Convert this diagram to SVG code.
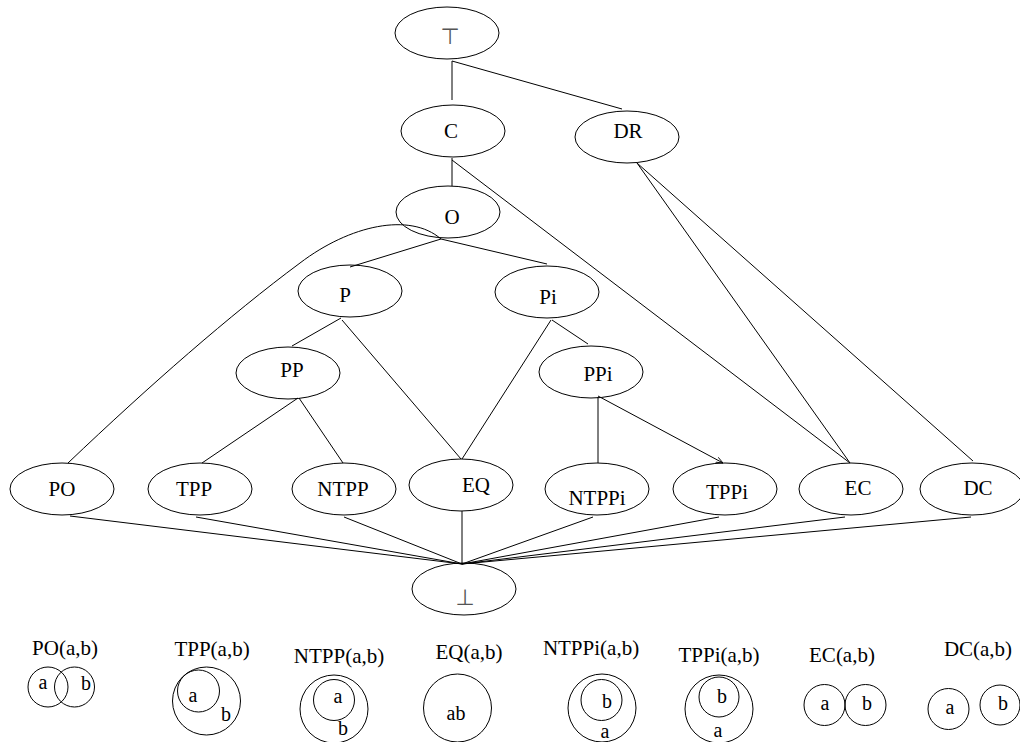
<svg xmlns="http://www.w3.org/2000/svg" width="1020" height="742" viewBox="0 0 1020 742">
<defs>
<style>
.n{fill:none;stroke:#000;stroke-width:1}
.t{font-family:"Liberation Serif","Times New Roman",serif;font-size:21px;fill:#000;text-anchor:middle}
.s{font-family:"Liberation Serif","Times New Roman",serif;font-size:20px;fill:#000;text-anchor:middle}
.sym{font-family:"DejaVu Sans",sans-serif;font-size:22px;fill:#555;text-anchor:middle}
.e{fill:none;stroke:#000;stroke-width:1}
</style>
<marker id="arr" viewBox="0 0 10 10" refX="10" refY="5" markerWidth="7" markerHeight="7" orient="auto" markerUnits="userSpaceOnUse">
<path d="M0,1 L10,5 L0,9" fill="none" stroke="#000" stroke-width="1.2"/>
</marker>
</defs>
<rect width="1020" height="742" fill="#fff"/>
<g id="connectors">
<line class="e" x1="452" y1="61" x2="452" y2="100"/>
<line class="e" x1="452" y1="61" x2="622" y2="109"/>
<line class="e" x1="452" y1="158" x2="452" y2="186"/>
<line class="e" x1="452" y1="160" x2="850" y2="463"/>
<line class="e" x1="637" y1="163" x2="850" y2="463"/>
<line class="e" x1="637" y1="163" x2="973" y2="461"/>
<line class="e" x1="441" y1="239" x2="350" y2="267"/>
<line class="e" x1="441" y1="239" x2="547" y2="264"/>
<path class="e" d="M441,239 C410,212 350,225 300,263 C230,315 150,385 68,463"/>
<line class="e" x1="341" y1="318" x2="292" y2="346"/>
<line class="e" x1="342" y1="320" x2="461" y2="459"/>
<line class="e" x1="551" y1="320" x2="462" y2="459"/>
<line class="e" x1="552" y1="320" x2="588" y2="344"/>
<line class="e" x1="298" y1="398" x2="202" y2="463"/>
<line class="e" x1="299" y1="398" x2="343" y2="463"/>
<line class="e" x1="598" y1="397" x2="598" y2="463"/>
<line class="e" x1="598" y1="396" x2="723" y2="463" marker-end="url(#arr)"/>
<line class="e" x1="70" y1="516" x2="462" y2="564"/>
<line class="e" x1="196" y1="517" x2="462" y2="564"/>
<line class="e" x1="344" y1="517" x2="462" y2="564"/>
<line class="e" x1="462" y1="511" x2="462" y2="564"/>
<line class="e" x1="593" y1="517" x2="462" y2="564"/>
<line class="e" x1="719" y1="517" x2="462" y2="564"/>
<line class="e" x1="845" y1="517" x2="462" y2="564"/>
<line class="e" x1="971" y1="517" x2="462" y2="564"/>
</g>
<g id="top"><ellipse class="n" cx="447" cy="33" rx="52" ry="26"/><text class="sym" x="450" y="44">⊤</text></g>
<g id="C"><ellipse class="n" cx="453" cy="131" rx="52" ry="26"/><text class="t" x="451" y="138">C</text></g>
<g id="DR"><ellipse class="n" cx="627" cy="137" rx="52" ry="26"/><text class="t" x="628" y="138">DR</text></g>
<g id="O"><ellipse class="n" cx="448" cy="212" rx="52" ry="26"/><text class="t" x="452" y="224">O</text></g>
<g id="P"><ellipse class="n" cx="350" cy="291" rx="52" ry="26"/><text class="t" x="345" y="302">P</text></g>
<g id="Pi"><ellipse class="n" cx="547" cy="292" rx="52" ry="26"/><text class="t" x="548" y="304">Pi</text></g>
<g id="PP"><ellipse class="n" cx="288" cy="373" rx="52" ry="26"/><text class="t" x="292" y="377">PP</text></g>
<g id="PPi"><ellipse class="n" cx="591" cy="372" rx="52" ry="26"/><text class="t" x="598" y="381">PPi</text></g>
<g id="PO"><ellipse class="n" cx="62" cy="489" rx="52" ry="26"/><text class="t" x="62" y="496">PO</text></g>
<g id="TPP"><ellipse class="n" cx="200" cy="489" rx="52" ry="26"/><text class="t" x="194" y="496">TPP</text></g>
<g id="NTPP"><ellipse class="n" cx="344" cy="489" rx="52" ry="26"/><text class="t" x="343" y="496">NTPP</text></g>
<g id="EQ"><ellipse class="n" cx="461" cy="485" rx="52" ry="26"/><text class="t" x="476" y="492">EQ</text></g>
<g id="NTPPi"><ellipse class="n" cx="597" cy="489" rx="52" ry="26"/><text class="t" x="597" y="505">NTPPi</text></g>
<g id="TPPi"><ellipse class="n" cx="725" cy="489" rx="52" ry="26"/><text class="t" x="727" y="499">TPPi</text></g>
<g id="EC"><ellipse class="n" cx="851" cy="489" rx="52" ry="26"/><text class="t" x="858" y="495">EC</text></g>
<g id="DC"><ellipse class="n" cx="972" cy="489" rx="52" ry="26"/><text class="t" x="978" y="495">DC</text></g>
<g id="bottom"><ellipse class="n" cx="464" cy="589" rx="52" ry="26"/><text class="sym" x="465" y="605">⊥</text></g>
<g id="legend">
<text class="t" x="65" y="655">PO(a,b)</text>
<circle class="n" cx="48" cy="687" r="20"/><circle class="n" cx="74.5" cy="687" r="20"/>
<text class="s" x="43" y="689">a</text><text class="s" x="86" y="690">b</text>
<text class="t" x="212" y="656">TPP(a,b)</text>
<circle class="n" cx="206.5" cy="701" r="34"/><circle class="n" cx="198.5" cy="691" r="21"/>
<text class="s" x="193" y="702">a</text><text class="s" x="226" y="721">b</text>
<text class="t" x="339" y="663">NTPP(a,b)</text>
<circle class="n" cx="334" cy="709" r="34"/><circle class="n" cx="334" cy="700" r="20.5"/>
<text class="s" x="338" y="703">a</text><text class="s" x="343" y="735">b</text>
<text class="t" x="469" y="659">EQ(a,b)</text>
<circle class="n" cx="457.5" cy="708" r="34"/>
<text class="s" x="456" y="720">ab</text>
<text class="t" x="591" y="655">NTPPi(a,b)</text>
<circle class="n" cx="602" cy="708" r="34"/><circle class="n" cx="601.5" cy="700" r="20.5"/>
<text class="s" x="607" y="708">b</text><text class="s" x="605" y="738">a</text>
<text class="t" x="719" y="662">TPPi(a,b)</text>
<circle class="n" cx="719" cy="709" r="34"/><circle class="n" cx="719" cy="697" r="20"/>
<text class="s" x="722" y="703">b</text><text class="s" x="718" y="737">a</text>
<text class="t" x="842" y="662">EC(a,b)</text>
<circle class="n" cx="824.5" cy="705" r="20.5"/><circle class="n" cx="865.5" cy="705" r="20.5"/>
<text class="s" x="825" y="710">a</text><text class="s" x="867" y="710">b</text>
<text class="t" x="978" y="656">DC(a,b)</text>
<circle class="n" cx="948.5" cy="709" r="20.5"/><circle class="n" cx="1000" cy="705" r="20"/>
<text class="s" x="950" y="714">a</text><text class="s" x="1003" y="710">b</text>
</g>
</svg>
